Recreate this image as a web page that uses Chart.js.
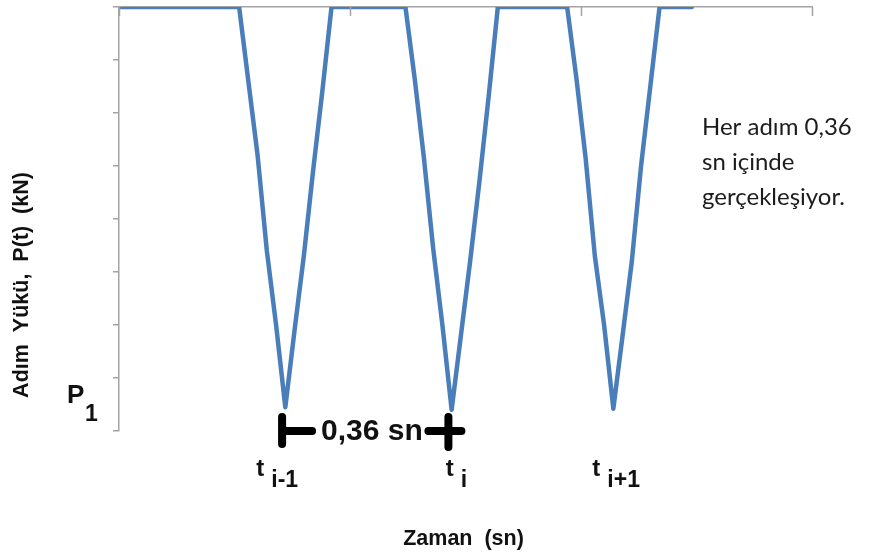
<!DOCTYPE html>
<html>
<head>
<meta charset="utf-8">
<script src="https://cdn.jsdelivr.net/npm/chart.js@4.4.1/dist/chart.umd.min.js"></script>
<style>
  html, body { margin: 0; padding: 0; background: #ffffff; }
  #wrap { width: 875px; height: 555px; position: relative; }
</style>
</head>
<body>
<div id="wrap"><canvas id="chart" width="875" height="555"></canvas></div>
<script>
// Step load history: time (s) and load (kN)
const times = [
  0,
  0.26, 0.28, 0.30, 0.32, 0.34, 0.36, 0.38, 0.40, 0.42, 0.44, 0.46,
  0.62, 0.64, 0.66, 0.68, 0.70, 0.72, 0.74, 0.76, 0.78, 0.80, 0.82,
  0.97, 0.99, 1.01, 1.03, 1.05, 1.07, 1.09, 1.11, 1.13, 1.15, 1.17,
  1.24
];
const loads = [
  0,
  0, 0.14, 0.28, 0.46, 0.60, 0.755, 0.61, 0.47, 0.31, 0.16, 0,
  0, 0.135, 0.285, 0.455, 0.60, 0.76, 0.62, 0.48, 0.33, 0.17, 0,
  0, 0.134, 0.285, 0.47, 0.60, 0.758, 0.62, 0.48, 0.30, 0.15, 0,
  0
];

// Step instants and their labels
const stepTimes = [0.36, 0.72, 1.07];
const stepSubscripts = ['i-1', 'i', 'i+1'];

// Step duration marker
const stepDuration = 0.36;   // sn
const durationStart = 0.353; // sn
const durationLabel = '0,36 sn';

// Axis ranges and tick steps
const timeRange = [0, 1.5];
const timeStep = 0.5;
const loadRange = [0, 0.8];
const loadStep = 0.1;

const yTitle = 'Adım  Yükü,  P(t)  (kN)';
const xTitle = 'Zaman  (sn)';
const noteLines = ['Her adım 0,36', 'sn içinde', 'gerçekleşiyor.'];

const points = times.map((t, i) => ({ x: t, y: loads[i] }));

const AXIS_GREY = '#a3a3a3';
const BOLD = '"Liberation Sans", Arial, sans-serif';

// Inward tick marks on the top time axis
const topTicks = {
  id: 'topTicks',
  afterDraw(chart) {
    const { ctx, chartArea, scales: { x } } = chart;
    ctx.save();
    ctx.strokeStyle = AXIS_GREY;
    ctx.lineWidth = 1.5;
    x.ticks.forEach(tk => {
      const px = Math.round(x.getPixelForValue(tk.value)) + 0.5;
      ctx.beginPath();
      ctx.moveTo(px, chartArea.top);
      ctx.lineTo(px, chartArea.top + 9);
      ctx.stroke();
    });
    ctx.restore();
  }
};

// Titles, step labels, duration marker and note
const annotations = {
  id: 'annotations',
  afterDraw(chart) {
    const { ctx, chartArea, scales: { x, y } } = chart;
    ctx.save();
    ctx.fillStyle = '#111111';
    ctx.strokeStyle = '#000000';

    // vertical axis title
    ctx.save();
    ctx.translate(22, 285);
    ctx.rotate(-Math.PI / 2);
    ctx.font = 'bold 21.5px ' + BOLD;
    ctx.textAlign = 'center';
    ctx.textBaseline = 'middle';
    ctx.fillText(yTitle, 0, 0);
    ctx.restore();

    // horizontal axis title
    ctx.font = 'bold 21.5px ' + BOLD;
    ctx.textAlign = 'center';
    ctx.textBaseline = 'alphabetic';
    ctx.fillText(xTitle, (chartArea.left + chartArea.right) / 2 - 2, 545);

    // P1 level label
    const pY = y.getPixelForValue(loads[6]);
    ctx.textAlign = 'left';
    ctx.font = 'bold 26px ' + BOLD;
    ctx.fillText('P', 67, pY - 4);
    ctx.font = 'bold 23px ' + BOLD;
    ctx.fillText('1', 85, pY + 14);

    // step labels t_i
    const dx = [-25, -2, -17];
    stepTimes.forEach((t, i) => {
      const px = x.getPixelForValue(t) + dx[i];
      ctx.textAlign = 'center';
      ctx.font = 'bold 24px ' + BOLD;
      ctx.fillText('t', px, 476);
      ctx.textAlign = 'left';
      ctx.font = 'bold 23px ' + BOLD;
      ctx.fillText(stepSubscripts[i], px + 11, 487);
    });

    // duration bracket
    const x0 = x.getPixelForValue(durationStart);
    const x1 = x.getPixelForValue(durationStart + stepDuration);
    const by = chartArea.bottom;
    ctx.lineCap = 'round';
    ctx.lineWidth = 8;
    ctx.beginPath();
    ctx.moveTo(x0, by - 14); ctx.lineTo(x0, by + 13);
    ctx.moveTo(x0, by); ctx.lineTo(x0 + 30, by);
    ctx.moveTo(x1 - 20, by); ctx.lineTo(x1 + 13, by);
    ctx.moveTo(x1, by - 14); ctx.lineTo(x1, by + 16);
    ctx.stroke();
    ctx.font = 'bold 30px ' + BOLD;
    ctx.textAlign = 'left';
    ctx.fillText(durationLabel, x0 + 39, by + 9);

    // note
    ctx.font = '24px Lato, "Open Sans", sans-serif';
    ctx.fillStyle = '#1c1c1c';
    noteLines.forEach((s, i) => ctx.fillText(s, 702, 135 + i * 35));
    ctx.restore();
  }
};

new Chart(document.getElementById('chart'), {
  type: 'line',
  data: {
    datasets: [{
      data: points,
      borderColor: '#4a7ebb',
      borderWidth: 4.5,
      borderJoinStyle: 'round',
      borderCapStyle: 'round',
      pointRadius: 0,
      tension: 0,
      fill: false
    }]
  },
  options: {
    responsive: false,
    animation: false,
    events: [],
    layout: { padding: { left: 113, top: 7, right: 63, bottom: 124 } },
    plugins: { legend: { display: false }, tooltip: { enabled: false } },
    scales: {
      x: {
        type: 'linear',
        position: 'top',
        min: timeRange[0],
        max: timeRange[1],
        z: 1,
        ticks: { display: false, stepSize: timeStep },
        grid: { display: true, drawOnChartArea: false, drawTicks: false, color: AXIS_GREY },
        border: { display: true, color: AXIS_GREY, width: 1.5 }
      },
      y: {
        type: 'linear',
        reverse: true,
        min: loadRange[0],
        max: loadRange[1],
        ticks: { display: false, stepSize: loadStep },
        grid: { display: true, drawOnChartArea: false, drawTicks: true, tickLength: 6, color: AXIS_GREY, lineWidth: 1.5 },
        border: { display: true, color: AXIS_GREY, width: 1.5 }
      }
    }
  },
  plugins: [topTicks, annotations]
});
</script>
</body>
</html>
